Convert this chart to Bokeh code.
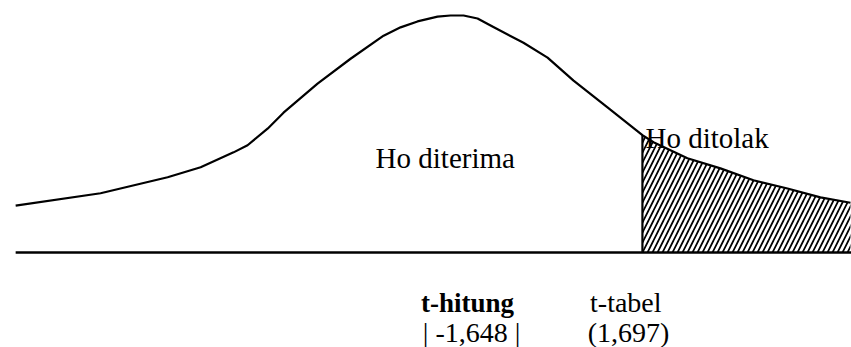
from bokeh.plotting import figure
from bokeh.models import Range1d
from bokeh.core.properties import value
from bokeh.embed import file_html
from bokeh.resources import INLINE

# Sketched t-distribution curve (t value, density)
t_values = [-3.846, -3.095, -2.502, -2.210, -1.919, -1.795, -1.618, -1.477,
            -1.176, -0.884, -0.592, -0.442, -0.292, -0.115, 0.0, 0.115,
            0.239, 0.354, 0.645, 0.858, 1.088, 1.388, 1.697, 1.795,
            2.095, 2.387, 2.679, 2.980, 3.271, 3.537]
density = [0.079, 0.100, 0.127, 0.144, 0.169, 0.181, 0.209, 0.236,
           0.285, 0.327, 0.366, 0.380, 0.390, 0.398, 0.400, 0.400,
           0.395, 0.383, 0.354, 0.329, 0.290, 0.245, 0.198, 0.186,
           0.159, 0.142, 0.122, 0.108, 0.093, 0.084]

t_tabel = 1.697
t_hitung = -1.648

region_labels = ["Ho diterima", "Ho ditolak"]


def fmt(v):
    return f"{v:.3f}".replace(".", ",")


FONT = value("Liberation Serif")

p = figure(width=851, height=347,
           x_range=Range1d(-3.98, 3.546), y_range=Range1d(-0.1603, 0.4253),
           output_backend="svg", toolbar_location=None,
           x_axis_location=None, y_axis_location=None, min_border=0)
p.grid.visible = False
p.outline_line_color = None
p.background_fill_color = "white"
p.border_fill_color = "white"

# rejection region: area under the curve to the right of t-tabel
tail_x = [t for t in t_values if t >= t_tabel]
tail_y = [d for t, d in zip(t_values, density) if t >= t_tabel]
p.patch([t_tabel] + tail_x + [tail_x[-1]], [0] + tail_y + [0],
        fill_color=None, line_color=None,
        hatch_pattern="/", hatch_color="black",
        hatch_scale=10, hatch_weight=1.7)

# curve, baseline and critical line
p.line(t_values, density, line_color="black", line_width=2.2, line_join="round")
p.line([t_values[0], t_values[-1] + 0.01], [0, 0], line_color="black", line_width=2.6)
d_crit = density[t_values.index(t_tabel)]
p.line([t_tabel, t_tabel], [0, d_crit], line_color="black", line_width=2.2)

# region names
p.text(x=[-0.663, 1.724], y=[0.159, 0.194], text=region_labels,
       text_font=FONT, text_font_size="29px", text_color="black",
       text_align="left", text_baseline="alphabetic")

# statistic labels under the axis
p.text(x=[0.15], y=[-0.085], text=["t-hitung"],
       text_font=FONT, text_font_size="27px", text_font_style="bold",
       text_color="black", text_align="center", text_baseline="alphabetic")
p.text(x=[0.186], y=[-0.135], text=[f"| {fmt(t_hitung)} |"],
       text_font=FONT, text_font_size="28px", text_color="black",
       text_align="center", text_baseline="alphabetic")
p.text(x=[1.55, 1.574], y=[-0.085, -0.135],
       text=["t-tabel", f"({fmt(t_tabel)})"],
       text_font=FONT, text_font_size="28px", text_color="black",
       text_align="center", text_baseline="alphabetic")

open("out.html", "w").write(file_html(p, INLINE))
